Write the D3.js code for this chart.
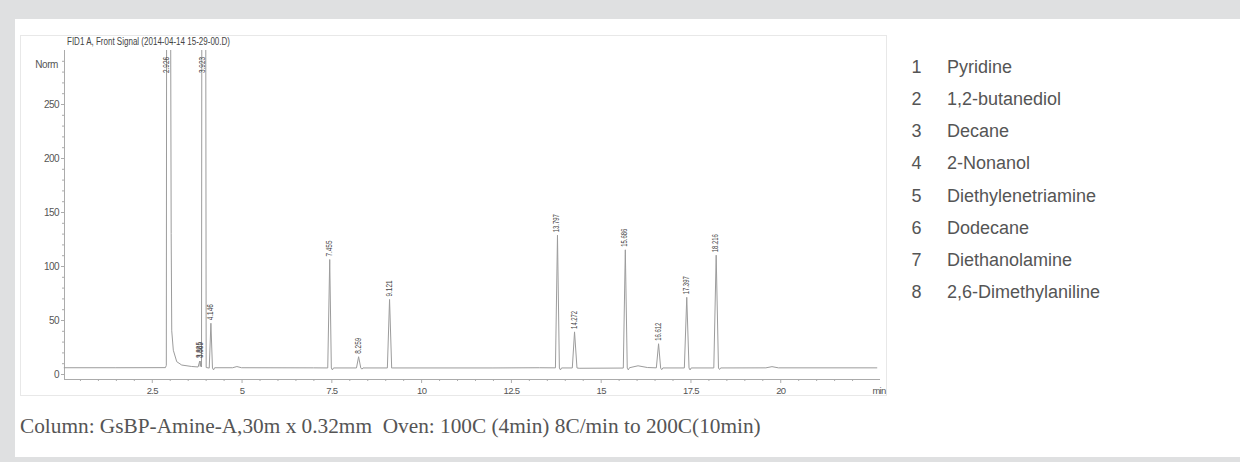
<!DOCTYPE html>
<html>
<head>
<meta charset="utf-8">
<script src="https://cdn.jsdelivr.net/npm/d3@7"></script>
<style>
  html, body { margin: 0; padding: 0; background: #dfe0e1; }
  svg { display: block; }
</style>
</head>
<body>
<svg id="chart" width="1240" height="462"></svg>
<script>
// ---------------- data ----------------
const chartTitle = "FID1 A, Front Signal (2014-04-14 15-29-00.D)";
const yUnit = "Norm";
const xUnit = "min";
const yMajorTicks = [0, 50, 100, 150, 200, 250];
const xMajorTicks = [2.5, 5, 7.5, 10, 12.5, 15, 17.5, 20];
const xTickLabels = ["2.5", "5", "7.5", "10", "12.5", "15", "17.5", "20"];

// retention times, apex heights (Norm) and labels of annotated peaks
const peakTimes   = [2.926, 3.835, 3.869, 3.923, 4.146, 7.455, 8.259, 9.121, 13.797, 14.272, 15.686, 16.612, 17.397, 18.216];
const peakHeights = [400, 12, 12, 400, 47, 106, 16, 69, 128.5, 39, 115, 28, 71, 110];
const peakLabels  = ["2.926", "3.835", "3.869", "3.923", "4.146", "7.455", "8.259", "9.121", "13.797", "14.272", "15.686", "16.612", "17.397", "18.216"];

// detector trace (time in min, signal in Norm)
const traceTime = [0.05, 1.5, 2.88, 2.905, 2.915, 3.02, 3.04, 3.056, 3.10, 3.195, 3.334, 3.6, 3.79, 3.835, 3.85, 3.869, 3.885, 3.895, 4.0, 4.015, 4.10, 4.146, 4.19, 4.22, 4.25, 4.75, 4.87, 5.0, 7.0, 7.40, 7.455, 7.50, 7.53, 7.56, 8.20, 8.259, 8.32, 8.35, 8.38, 9.06, 9.121, 9.18, 9.21, 12.0, 13.3, 13.74, 13.797, 13.85, 13.88, 13.91, 14.21, 14.272, 14.34, 14.40, 15.63, 15.686, 15.74, 15.77, 15.80, 16.04, 16.3, 16.55, 16.612, 16.67, 16.70, 16.73, 17.33, 17.397, 17.46, 17.49, 17.52, 18.15, 18.216, 18.28, 18.31, 18.34, 19.6, 19.77, 19.95, 22.7];
const traceSignal = [5.8, 5.8, 5.9, 8, 400, 400, 130, 40, 22, 11.4, 8.3, 7, 6.5, 12, 7, 12, 6.5, 400, 400, 6, 5.5, 47, 5.5, 3.8, 5.8, 5.8, 6.9, 5.8, 5.7, 5.6, 106, 5.5, 3.8, 5.6, 5.6, 16, 5.6, 4.5, 5.6, 5.6, 69, 5.5, 5.6, 5.6, 5.8, 5.7, 128.5, 5.5, 3.8, 5.6, 5.6, 39, 5.6, 5.3, 5.5, 115, 5.4, 3.8, 5.8, 7.6, 6.0, 5.7, 28, 5.5, 4.0, 5.6, 5.6, 71, 5.5, 3.8, 5.6, 5.6, 110, 5.5, 4.2, 5.6, 5.7, 6.8, 5.7, 5.7];

const legendNumbers = ["1", "2", "3", "4", "5", "6", "7", "8"];
const legendNames = ["Pyridine", "1,2-butanediol", "Decane", "2-Nonanol", "Diethylenetriamine", "Dodecane", "Diethanolamine", "2,6-Dimethylaniline"];

const caption = "Column: GsBP-Amine-A,30m x 0.32mm  Oven: 100C (4min) 8C/min to 200C(10min)";

// ---------------- drawing ----------------
const svg = d3.select("#chart");
const sans = "'Liberation Sans', Arial, sans-serif";
const serif = "'Liberation Serif', 'Times New Roman', serif";

// page background + white panel
svg.append("rect").attr("x", 0).attr("y", 0).attr("width", 1240).attr("height", 462).attr("fill", "#dfe0e1");
svg.append("rect").attr("x", 15).attr("y", 19).attr("width", 1225).attr("height", 438).attr("fill", "#ffffff");

// chromatogram frame
svg.append("rect").attr("x", 20.5).attr("y", 35.5).attr("width", 866).attr("height", 360)
  .attr("fill", "#ffffff").attr("stroke", "#e8e8e8").attr("stroke-width", 1);

const x = d3.scaleLinear().domain([0, 22.75]).range([62, 879]);
const y = d3.scaleLinear().domain([0, 300]).range([374, 50]);

const axisColor = "#ababab";
const textColor = "#555555";

// title
svg.append("text").attr("x", 67).attr("y", 44.5)
  .attr("font-family", sans).attr("font-size", 10).attr("fill", "#444")
  .attr("textLength", 163).attr("lengthAdjust", "spacingAndGlyphs")
  .text(chartTitle);

// y axis
const yAxisG = svg.append("g").attr("transform", "translate(64,0)");
yAxisG.call(d3.axisLeft(y).tickValues(yMajorTicks).tickSize(3).tickPadding(2));
const yMinor = d3.range(10, 300, 10).filter(v => v % 50 !== 0);
const yMinorG = svg.append("g").attr("transform", "translate(64,0)");
yMinorG.call(d3.axisLeft(y).tickValues(yMinor).tickSize(2).tickFormat(""));
[yAxisG, yMinorG].forEach(g => {
  g.select(".domain").remove();
  g.selectAll("line").attr("stroke", axisColor);
  g.selectAll("text").attr("font-family", sans).attr("font-size", 10)
    .attr("fill", textColor).attr("letter-spacing", "-0.6px");
});
svg.append("line").attr("x1", 64.5).attr("x2", 64.5).attr("y1", 50).attr("y2", 379)
  .attr("stroke", axisColor);

svg.append("text").attr("x", 58).attr("y", 68).attr("text-anchor", "end")
  .attr("font-family", sans).attr("font-size", 10).attr("fill", textColor)
  .attr("letter-spacing", "-0.4px").text(yUnit);

// x axis
const xAxisG = svg.append("g").attr("transform", "translate(0,379)");
xAxisG.call(d3.axisBottom(x).tickValues(xMajorTicks).tickSize(4).tickPadding(4)
  .tickFormat((d, i) => xTickLabels[i]));
const xMinor = d3.range(0.5, 22.6, 0.5).filter(v => Math.abs(v / 2.5 - Math.round(v / 2.5)) > 1e-6);
const xMinorG = svg.append("g").attr("transform", "translate(0,379)");
xMinorG.call(d3.axisBottom(x).tickValues(xMinor).tickSize(2).tickFormat(""));
[xAxisG, xMinorG].forEach(g => {
  g.select(".domain").remove();
  g.selectAll("line").attr("stroke", axisColor);
  g.selectAll("text").attr("font-family", sans).attr("font-size", 9.5)
    .attr("fill", textColor).attr("letter-spacing", "-0.7px");
});
svg.append("line").attr("x1", 64).attr("x2", 880).attr("y1", 379.5).attr("y2", 379.5)
  .attr("stroke", axisColor);
svg.append("text").attr("x", x(22.75)).attr("y", 394).attr("text-anchor", "middle")
  .attr("font-family", sans).attr("font-size", 9.5).attr("fill", textColor)
  .attr("letter-spacing", "-0.7px").text(xUnit);

// trace
svg.append("clipPath").attr("id", "plotClip")
  .append("rect").attr("x", 62).attr("y", 50).attr("width", 818).attr("height", 330);
const tracePts = traceTime.map((t, i) => [t, traceSignal[i]]);
svg.append("path")
  .attr("clip-path", "url(#plotClip)")
  .attr("d", d3.line().x(d => x(d[0])).y(d => y(d[1]))(tracePts))
  .attr("fill", "none").attr("stroke", "#9c9c9c").attr("stroke-width", 1);

// peak labels
peakTimes.forEach((t, i) => {
  const apex = y(Math.min(peakHeights[i], 300));
  const base = peakHeights[i] >= 300 ? 73 : apex - 3;
  const px = x(t) + 2;
  svg.append("text")
    .attr("transform", `translate(${px},${base}) rotate(-90)`)
    .attr("font-family", sans).attr("font-size", 9.5).attr("fill", "#444")
    .attr("textLength", peakLabels[i].length > 5 ? 18 : 16)
    .attr("lengthAdjust", "spacingAndGlyphs")
    .text(peakLabels[i]);
});

// legend
legendNames.forEach((name, i) => {
  const by = 73.3 + i * 32.05;
  svg.append("text").attr("x", 916.5).attr("y", by).attr("text-anchor", "middle")
    .attr("font-family", sans).attr("font-size", 18).attr("fill", textColor)
    .text(legendNumbers[i]);
  svg.append("text").attr("x", 947).attr("y", by)
    .attr("font-family", sans).attr("font-size", 18).attr("fill", textColor)
    .text(name);
});

// caption
svg.append("text").attr("x", 20).attr("y", 432.5)
  .attr("font-family", serif).attr("font-size", 21.3).attr("fill", textColor)
  .style("white-space", "pre")
  .text(caption);
</script>
</body>
</html>
